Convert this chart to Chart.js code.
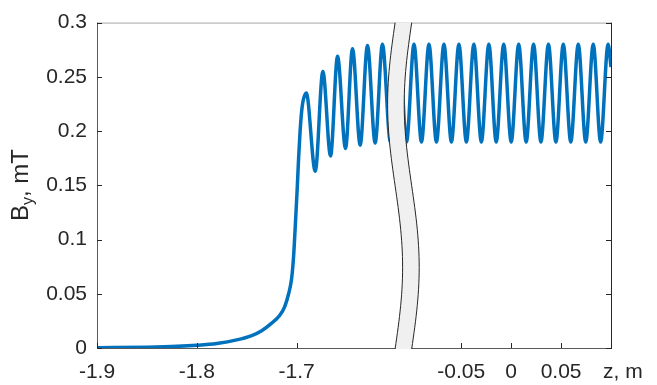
<!DOCTYPE html>
<html>
<head>
<meta charset="utf-8">
<script src="https://cdn.jsdelivr.net/npm/chart.js@4/dist/chart.umd.min.js"></script>
<style>
  body { margin: 0; background: #fff; }
  canvas { display: block; }
</style>
</head>
<body>
<canvas id="myChart" width="657" height="385"></canvas>
<script>
// left part of the broken z axis (before the break), z in m, By in mT
const leftZ = [-1.9, -1.85, -1.82, -1.8, -1.78, -1.76, -1.745, -1.735, -1.725, -1.717, -1.712, -1.708,
  -1.705, -1.703, -1.7013, -1.6995, -1.698, -1.6965, -1.6945, -1.6903, -1.6813, -1.6737, -1.666, -1.659,
  -1.651, -1.644, -1.6363, -1.629, -1.6213, -1.614, -1.606];
const leftB = [0.0003, 0.0008, 0.0015, 0.0025, 0.0042, 0.0075, 0.0115, 0.016, 0.023, 0.03, 0.038, 0.05,
  0.064, 0.085, 0.113, 0.145, 0.175, 0.2, 0.222, 0.235, 0.163, 0.255, 0.177, 0.269,
  0.184, 0.276, 0.187, 0.279, 0.189, 0.280, 0.190];

// right part (after the break)
const rightZ = [-0.1124, -0.1049, -0.0974, -0.0899, -0.0824, -0.0749, -0.0674, -0.0599, -0.0524, -0.0449,
  -0.0374, -0.0299, -0.0224, -0.015, -0.0075, 0, 0.0075, 0.015, 0.0224, 0.0298, 0.0373, 0.0448, 0.0522,
  0.0597, 0.0672, 0.0747, 0.0822, 0.0896, 0.0971, 0.1];
const rightB = [0.28, 0.19, 0.28, 0.19, 0.28, 0.19, 0.28, 0.19, 0.28, 0.19,
  0.28, 0.19, 0.28, 0.19, 0.28, 0.19, 0.28, 0.19, 0.28, 0.19, 0.28, 0.19, 0.28,
  0.19, 0.28, 0.19, 0.28, 0.19, 0.28, 0.259];

const xTickValues = [-1.9, -1.8, -1.7, -0.05, 0, 0.05];
const xTickLabels = ["-1.9", "-1.8", "-1.7", "-0.05", "0", "0.05"];
const yTickValues = [0, 0.05, 0.1, 0.15, 0.2, 0.25, 0.3];
const yTickLabels = ["0", "0.05", "0.1", "0.15", "0.2", "0.25", "0.3"];

// the right part is shifted left so both pieces share one linear scale
const SHIFT = 1.485;
const BREAK_AT = -1.593;
const toAxis = (z) => (z < -1 ? z : z - SHIFT);

const points = leftZ.map((z, i) => ({ x: toAxis(z), y: leftB[i] }))
  .concat(rightZ.map((z, i) => ({ x: toAxis(z), y: rightB[i] })));

const FONT = "Liberation Sans, Arial, Helvetica, sans-serif";
const tickColor = "#262626";

const framePlugin = {
  id: "frame",
  afterDraw(chart) {
    const { ctx, chartArea: a, scales } = chart;
    const x = scales.x, y = scales.y;
    ctx.save();
    ctx.lineWidth = 1;

    // box
    ctx.strokeStyle = "#a6a6a6";
    ctx.beginPath(); ctx.moveTo(a.left, a.top + 0.5); ctx.lineTo(a.right, a.top + 0.5); ctx.stroke();
    ctx.strokeStyle = "#5a5a5a";
    ctx.beginPath(); ctx.moveTo(a.left + 0.5, a.top); ctx.lineTo(a.left + 0.5, a.bottom); ctx.stroke();
    ctx.beginPath(); ctx.moveTo(a.left, a.bottom + 0.5); ctx.lineTo(a.right, a.bottom + 0.5); ctx.stroke();
    ctx.strokeStyle = tickColor;
    ctx.beginPath(); ctx.moveTo(a.right + 0.5, a.top); ctx.lineTo(a.right + 0.5, a.bottom + 1); ctx.stroke();

    // inward ticks
    ctx.strokeStyle = tickColor;
    yTickValues.forEach((v) => {
      const py = Math.round(y.getPixelForValue(v)) + 0.5;
      ctx.beginPath(); ctx.moveTo(a.left, py); ctx.lineTo(a.left + 5, py); ctx.stroke();
      ctx.beginPath(); ctx.moveTo(a.right, py); ctx.lineTo(a.right - 5, py); ctx.stroke();
    });
    xTickValues.forEach((v) => {
      const px = Math.round(x.getPixelForValue(toAxis(v))) + 0.5;
      ctx.beginPath(); ctx.moveTo(px, a.bottom); ctx.lineTo(px, a.bottom - 5); ctx.stroke();
    });

    // axis break band
    const cx = x.getPixelForValue(BREAK_AT);
    const amp = 7.5, half = 8.3, h = a.bottom + 1 - a.top;
    const edge = (side) => {
      const pts = [];
      for (let i = 0; i <= 60; i++) {
        const t = i / 60;
        pts.push([cx - amp * Math.sin(2 * Math.PI * t) + side * half, a.top + t * h]);
      }
      return pts;
    };
    const l = edge(-1), r = edge(1);
    ctx.fillStyle = "#f0f0f0";
    ctx.beginPath();
    l.forEach((p, i) => (i ? ctx.lineTo(p[0], p[1]) : ctx.moveTo(p[0], p[1])));
    r.slice().reverse().forEach((p) => ctx.lineTo(p[0], p[1]));
    ctx.closePath();
    ctx.fill();
    ctx.strokeStyle = "#262626";
    [l, r].forEach((pts) => {
      ctx.beginPath();
      pts.forEach((p, i) => (i ? ctx.lineTo(p[0], p[1]) : ctx.moveTo(p[0], p[1])));
      ctx.stroke();
    });

    // axis labels
    ctx.fillStyle = "#262626";
    ctx.font = "21px " + FONT;
    ctx.textBaseline = "alphabetic";
    ctx.textAlign = "left";
    ctx.fillText("z, m", 603, 378);

    ctx.translate(28, 185);
    ctx.rotate(-Math.PI / 2);
    ctx.font = "24px " + FONT;
    const wB = ctx.measureText("B").width;
    ctx.font = "16px " + FONT;
    const wy = ctx.measureText("y").width;
    ctx.font = "24px " + FONT;
    const wRest = ctx.measureText(", mT").width;
    let sx = -(wB + wy + wRest) / 2;
    ctx.fillText("B", sx, 0);
    sx += wB;
    ctx.font = "16px " + FONT;
    ctx.fillText("y", sx, 5);
    sx += wy;
    ctx.font = "24px " + FONT;
    ctx.fillText(", mT", sx, 0);
    ctx.restore();
  },
};

new Chart(document.getElementById("myChart"), {
  type: "line",
  data: {
    datasets: [
      {
        data: points,
        borderColor: "#0072bd",
        borderWidth: 3.5,
        pointRadius: 0,
        fill: false,
        cubicInterpolationMode: "monotone",
      },
    ],
  },
  options: {
    responsive: false,
    animation: false,
    events: [],
    layout: { padding: { left: 0, top: 15, right: 46, bottom: 0 } },
    plugins: { legend: { display: false }, tooltip: { enabled: false } },
    scales: {
      x: {
        type: "linear",
        min: -1.9,
        max: 0.1 - SHIFT,
        afterFit: (s) => { s.height = 37; },
        afterBuildTicks: (s) => { s.ticks = xTickValues.map((v) => ({ value: toAxis(v) })); },
        grid: { display: false, drawTicks: false },
        border: { display: false },
        ticks: {
          autoSkip: false,
          maxRotation: 0,
          padding: 12,
          color: "#262626",
          font: { family: FONT, size: 21 },
          callback: (v, i) => xTickLabels[i],
        },
      },
      y: {
        min: 0,
        max: 0.3,
        afterFit: (s) => { s.width = 97; },
        afterBuildTicks: (s) => { s.ticks = yTickValues.map((v) => ({ value: v })); },
        grid: { display: false, drawTicks: false },
        border: { display: false },
        ticks: {
          padding: 10,
          color: "#262626",
          font: { family: FONT, size: 21 },
          callback: (v, i) => yTickLabels[i],
        },
      },
    },
  },
  plugins: [framePlugin],
});
</script>
</body>
</html>
